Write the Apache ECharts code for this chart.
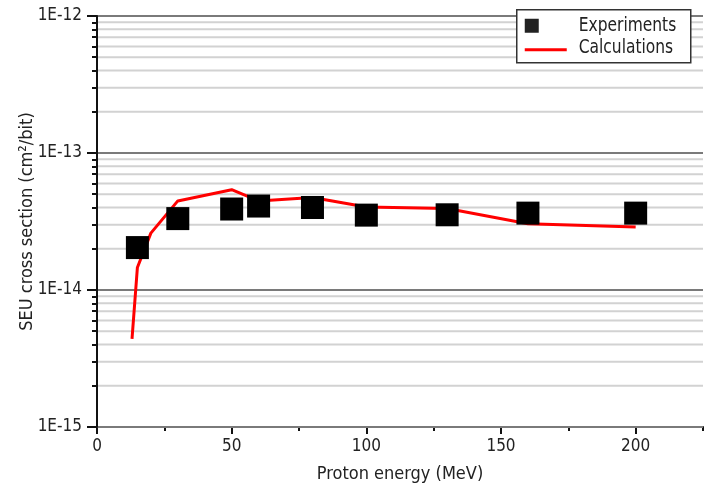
<!DOCTYPE html>
<html>
<head>
<meta charset="utf-8">
<title>SEU cross section vs proton energy</title>
<script src="https://cdn.jsdelivr.net/npm/echarts@6/dist/echarts.min.js"></script>
<style>
  html, body { margin: 0; padding: 0; background: #fff; }
  #chart { width: 715px; height: 490px; }
</style>
</head>
<body>
<div id="chart"></div>
<script>
// Measured SEU cross sections (cm^2/bit) vs proton energy (MeV)
var energyExp = [15, 30, 50, 60, 80, 100, 130, 160, 200];
var sigmaExp  = [2.04e-14, 3.32e-14, 3.9e-14, 4.1e-14, 4.0e-14, 3.52e-14, 3.54e-14, 3.64e-14, 3.64e-14];

// Calculated curve
var energyCalc = [13, 15, 20, 30, 50, 60, 80, 100, 130, 160, 200];
var sigmaCalc  = [4.4e-15, 1.46e-14, 2.6e-14, 4.47e-14, 5.4e-14, 4.47e-14, 4.73e-14, 4.04e-14, 3.93e-14, 3.05e-14, 2.88e-14];

// Axis ticks
var xMajorTicks = [0, 50, 100, 150, 200];
var xMinorTicks = [25, 75, 125, 175, 225];
var yDecades = [1e-15, 1e-14, 1e-13, 1e-12];
var yTickLabels = ['1E-15', '1E-14', '1E-13', '1E-12'];

var FONT = "'Liberation Sans Narrow', 'Arial Narrow', 'DejaVu Sans Condensed', sans-serif";
var TEXT = '#222';

// 2..9 within each decade, for the light grid lines and short ticks
var yMinor = [];
for (var d = 0; d < yDecades.length - 1; d++) {
  for (var k = 2; k <= 9; k++) yMinor.push(Number((k * yDecades[d]).toPrecision(3)));
}

function zip(xs, ys) { return xs.map(function (x, i) { return [x, ys[i]]; }); }

var chart = echarts.init(document.getElementById('chart'), null, { renderer: 'canvas' });

chart.setOption({
  animation: false,
  backgroundColor: '#fff',
  textStyle: { fontFamily: FONT },
  grid: { left: 97, right: 12, top: 16, bottom: 63, containLabel: false, outerBoundsMode: 'none' },
  xAxis: [{
    type: 'value', min: 0, max: 225,
    name: 'Proton energy (MeV)', nameLocation: 'middle', nameGap: 38, nameMoveOverlap: false,
    nameTextStyle: { fontFamily: FONT, fontSize: 18, color: TEXT },
    axisLine: { onZero: false, lineStyle: { color: '#111', width: 2 } },
    axisTick: { length: 7, lineStyle: { color: '#111', width: 2 }, customValues: xMajorTicks },
    axisLabel: { fontFamily: FONT, fontSize: 17, color: TEXT, margin: 11, customValues: xMajorTicks },
    splitLine: { show: false }
  }, {
    type: 'value', min: 0, max: 225, position: 'bottom',
    axisLine: { show: false },
    axisTick: { length: 4, lineStyle: { color: '#111', width: 2 }, customValues: xMinorTicks },
    axisLabel: { show: false },
    splitLine: { show: false }
  }],
  yAxis: [{
    type: 'log', logBase: 10, min: 1e-15, max: 1e-12,
    name: 'SEU cross section (cm²/bit)', nameLocation: 'middle', nameGap: 61, nameRotate: 90,
    nameMoveOverlap: false,
    nameTextStyle: { fontFamily: FONT, fontSize: 18, color: TEXT },
    axisLine: { lineStyle: { color: '#111', width: 2 } },
    axisTick: { length: 10, lineStyle: { color: '#111', width: 2 }, customValues: yDecades },
    axisLabel: {
      fontFamily: FONT, fontSize: 17, color: TEXT, margin: 15, customValues: yDecades,
      formatter: function (v) {
        var i = Math.round(Math.log10(v)) + 15;
        return yTickLabels[i];
      }
    },
    splitLine: { show: true, lineStyle: { color: '#7a7a7a', width: 2 } },
    z: 3
  }, {
    type: 'log', logBase: 10, min: 1e-15, max: 1e-12, position: 'left',
    axisLine: { show: false },
    axisTick: { length: 5, lineStyle: { color: '#111', width: 2 }, customValues: yMinor },
    axisLabel: { show: false },
    splitLine: { show: false }
  }],
  series: [{
    // light minor grid lines across the plot
    type: 'custom', silent: true, z: 1,
    xAxisIndex: 0, yAxisIndex: 0,
    data: yMinor.map(function (v) { return [0, v]; }),
    renderItem: function (params, api) {
      var cs = params.coordSys;
      var y = api.coord([0, api.value(1)])[1];
      return {
        type: 'line',
        shape: { x1: cs.x, y1: y, x2: cs.x + cs.width, y2: y },
        style: { stroke: '#d2d2d2', lineWidth: 2 }
      };
    }
  }, {
    name: 'Calculations', type: 'line',
    data: zip(energyCalc, sigmaCalc),
    symbol: 'none', smooth: false,
    lineStyle: { color: '#ff0000', width: 3 },
    z: 4
  }, {
    name: 'Experiments', type: 'scatter',
    data: zip(energyExp, sigmaExp),
    symbol: 'rect', symbolSize: 23,
    itemStyle: { color: '#000', opacity: 1 },
    z: 5
  }],
  graphic: [{
    type: 'group', left: 516, top: 9, z: 100,
    children: [
      { type: 'rect', z: 100, shape: { x: 0, y: 0, width: 174, height: 53 },
        style: { fill: '#fff', stroke: '#333', lineWidth: 1.5 } },
      { type: 'rect', z: 101, shape: { x: 8, y: 9, width: 14, height: 14 }, style: { fill: '#222' } },
      { type: 'line', z: 101, shape: { x1: 8, y1: 40, x2: 50, y2: 40 }, style: { stroke: '#ff0000', lineWidth: 3 } },
      { type: 'text', z: 101, x: 62, y: 16, scaleX: 0.86, style: { text: 'Experiments', fill: TEXT, font: '20px ' + FONT, verticalAlign: 'middle' } },
      { type: 'text', z: 101, x: 62, y: 38.5, scaleX: 0.86, style: { text: 'Calculations', fill: TEXT, font: '20px ' + FONT, verticalAlign: 'middle' } }
    ]
  }]
});
</script>
</body>
</html>
